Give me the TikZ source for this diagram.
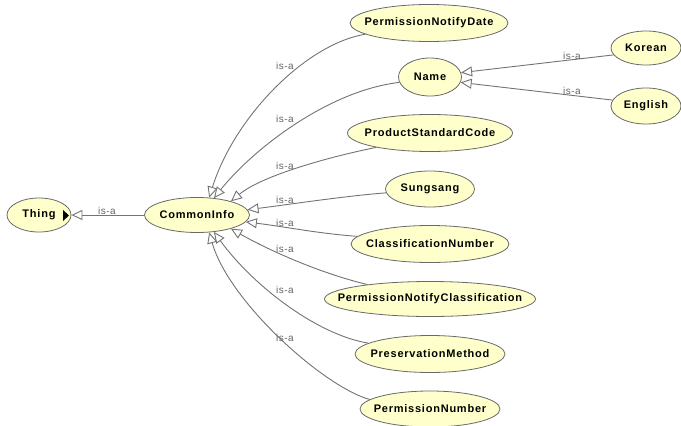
\documentclass[tikz,border=0pt]{standalone}
\usepackage{fontspec}
\setmainfont{Liberation Sans}
\newfontfamily\nodefont[LetterSpace=7]{Liberation Sans}
\newfontfamily\lblfont[LetterSpace=5]{Liberation Sans}
\usetikzlibrary{shapes.geometric,arrows.meta}
\definecolor{cfill}{RGB}{255,255,204}
\definecolor{cline}{RGB}{115,115,115}
\definecolor{cborder}{RGB}{105,105,105}
\definecolor{clabel}{RGB}{100,100,100}
\tikzset{
  cls/.style={ellipse, draw=cborder, fill=cfill, line width=0.8pt, inner sep=0pt,
    font=\nodefont\bfseries\fontsize{11}{13}\selectfont},
  isa/.style={draw=cline, line width=0.9pt, -{Triangle[length=11pt,width=10pt,fill=white]}},
  lbl/.style={font=\lblfont\fontsize{10}{12}\selectfont, text=clabel, inner sep=0pt},
}
\newcommand{\zt}[1]{\makebox[0pt][c]{#1}}
\begin{document}
\begin{tikzpicture}[x=1pt,y=-1pt]
\useasboundingbox (0,0) rectangle (681,426);
% nodes
\node[cls, minimum width=64, minimum height=34] (thing) at (39,215) {\zt{Thing}};
\node[cls, minimum width=105, minimum height=35] (ci) at (197,215) {\zt{CommonInfo}};
\node[cls, minimum width=158, minimum height=37] (pnd) at (429,23) {\zt{PermissionNotifyDate}};
\node[cls, minimum width=63, minimum height=38] (name) at (430,77) {\zt{Name}};
\node[cls, minimum width=165, minimum height=37] (psc) at (430,133) {\zt{ProductStandardCode}};
\node[cls, minimum width=89, minimum height=36] (sung) at (430,189) {\zt{Sungsang}};
\node[cls, minimum width=158, minimum height=37] (cn) at (430,244) {\zt{ClassificationNumber}};
\node[cls, minimum width=211, minimum height=35] (pnc) at (430,299) {\zt{PermissionNotifyClassification}};
\node[cls, minimum width=150, minimum height=37] (pm) at (430,354) {\zt{PreservationMethod}};
\node[cls, minimum width=140, minimum height=36] (pn) at (430,409) {\zt{PermissionNumber}};
\node[cls, minimum width=70, minimum height=34] (kor) at (646,48) {\zt{Korean}};
\node[cls, minimum width=70, minimum height=36] (eng) at (646,106) {\zt{English}};
% expand marker on Thing
\fill[black] (63,210) -- (69,215.5) -- (63,221) -- cycle;
% edges
\draw[isa] (ci.west) -- (thing.east);
\draw[isa] (pnd.190) .. controls +(-60,10) and +(25,-80) .. (ci.55);
\draw[isa] (name.190) .. controls +(-70,8) and +(40,-50) .. (ci.45);
\draw[isa] (psc.195) .. controls +(-50,10) and +(30,-25) .. (ci.22);
\draw[isa] (sung.185) .. controls +(-40,3) and +(40,-5) .. (ci.6);
\draw[isa] (cn.174) .. controls +(-40,-3) and +(40,5) .. (ci.-8);
\draw[isa] (pnc.167) .. controls +(-50,-12) and +(35,20) .. (ci.-22);
\draw[isa] (pm.170) .. controls +(-50,-8) and +(40,55) .. (ci.-45);
\draw[isa] (pn.171) .. controls +(-45,-12) and +(20,70) .. (ci.-55);
\draw[isa] (kor.192) -- (name.8);
\draw[isa] (eng.170) -- (name.-10);
% labels
\node[lbl] (l0) at (107,211) {is-a};
\node[lbl] (l1) at (285,66) {is-a};
\node[lbl] (l2) at (285,119) {is-a};
\node[lbl] (l3) at (285,166) {is-a};
\node[lbl] (l4) at (285,200) {is-a};
\node[lbl] (l5) at (285,223) {is-a};
\node[lbl] (l6) at (285,249) {is-a};
\node[lbl] (l7) at (285,290) {is-a};
\node[lbl] (l8) at (285,338) {is-a};
\node[lbl] (l9) at (572,56) {is-a};
\node[lbl] (l10) at (572,91) {is-a};
\end{tikzpicture}
\end{document}
